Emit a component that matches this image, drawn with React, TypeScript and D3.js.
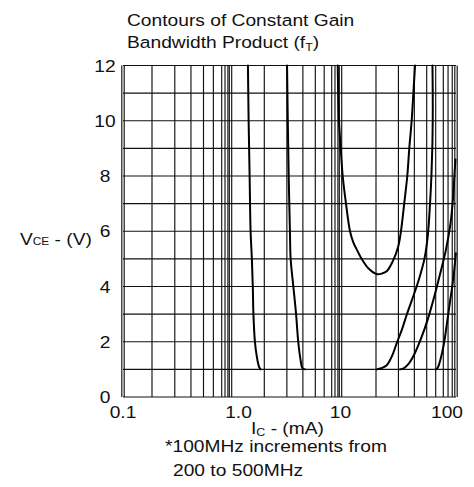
import * as d3 from "d3";

const W = 474;
const H = 487;

// log axis decades, labelled ticks
const xDecades = [0.1, 1, 10, 100];
const xDecadeLabels = ["0.1", "1.0", "10", "100"];
const xMinorSteps = [2, 3, 4, 5, 6, 7, 8, 9];
const yGridValues = [0, 1, 2, 3, 4, 5, 6, 7, 8, 9, 10, 11, 12];
const yTickValues = [0, 2, 4, 6, 8, 10, 12];

// the printed log grid is not evenly spaced, so the scale is calibrated
// piecewise on these current values
const xKnots = [0.1, 0.2, 0.5, 0.7, 1, 2, 5, 7, 10, 20, 50, 70, 100];
const xKnotPx = [123, 152, 203.5, 221.7, 230.5, 264.3, 315.3, 331.7, 340.5, 376, 426.7, 443.3, 456];

// contours, [IC mA, VCE V]
const contourA = [
  [1.43, 12], [1.45, 10], [1.48, 8], [1.51, 6], [1.55, 5], [1.58, 4],
  [1.6, 3], [1.65, 2], [1.71, 1.5], [1.8, 1.08], [1.86, 1],
];
const contourB = [
  [3.01, 12], [3.05, 10], [3.1, 8], [3.17, 6], [3.21, 5], [3.37, 4],
  [3.54, 3], [3.68, 2], [3.85, 1.3], [3.96, 1.05], [4.16, 1],
];
const contourU = [
  [8.93, 12], [9.42, 10], [10.04, 9], [10.44, 8], [11.13, 7], [12.04, 6],
  [12.84, 5.6], [13.88, 5.3], [15.12, 5], [17.3, 4.65], [20.25, 4.45],
  [22.3, 4.47], [24.27, 4.55], [27, 4.9], [29.9, 5.45], [31.4, 6],
  [33.3, 7], [35.2, 8], [36.5, 9], [38.1, 10], [39.3, 11], [40.5, 12],
];
const contourD = [
  [20.25, 1], [22, 1.04], [24.3, 1.15], [26.8, 1.5], [29.1, 1.95], [32, 2.45],
  [34.8, 2.97], [38.2, 3.5], [41.7, 4], [45, 4.5], [48, 5], [51, 5.8],
  [53.5, 7], [55, 8], [56, 9], [56.5, 10], [56.5, 11], [56.2, 12],
];
const contourE = [
  [30.9, 1], [33, 1.04], [36, 1.2], [40, 1.55], [45, 2.1], [51, 2.8],
  [58, 3.6], [66, 4.5], [75, 5.3], [85, 6.2], [92, 7.2], [96, 8.1], [98.5, 8.6],
];
const contourF = [
  [60, 1], [62.5, 1.06], [66, 1.35], [71, 1.9], [77, 2.6], [84, 3.4],
  [91, 4.1], [96, 4.7], [99.5, 5.2],
];
const contours = [contourA, contourB, contourU, contourD, contourE, contourF];

const top = 65.5;
const bottom = 397;
const left = xKnotPx[0];
const right = xKnotPx[xKnotPx.length - 1];

const x = d3.scaleLog().domain(xKnots).range(xKnotPx);
const y = d3.scaleLinear().domain([0, 12]).range([bottom, top]);

const line = d3
  .line<number[]>()
  .x((d) => x(d[0]))
  .y((d) => y(d[1]))
  .curve(d3.curveCatmullRom.alpha(0.5));

const FONT = "'Liberation Sans', Arial, Helvetica, sans-serif";
const STRETCH = 1.13;

type TProps = {
  x: number;
  y: number;
  anchor?: "start" | "middle" | "end";
  size?: number;
  children: React.ReactNode;
};

const SText = ({ x, y, anchor = "start", size = 17, children }: TProps) => (
  <text
    transform={`translate(${x},${y}) scale(${STRETCH},1)`}
    textAnchor={anchor}
    fontFamily={FONT}
    fontSize={size}
    fill="#111"
  >
    {children}
  </text>
);

export default function App() {
  const minorLines: number[] = [];
  xDecades.slice(0, -1).forEach((d) => {
    xMinorSteps.forEach((k) => minorLines.push(d * k));
  });

  return (
    <svg
      width={W}
      height={H}
      viewBox={`0 0 ${W} ${H}`}
      style={{ position: "absolute", left: 0, top: 0, background: "#fff" }}
    >
      <rect width={W} height={H} fill="#fff" />

      <SText x={127} y={26}>Contours of Constant Gain</SText>
      <SText x={127} y={48}>
        Bandwidth Product (f
        <tspan fontSize={11} dy={3}>T</tspan>
        <tspan dy={-3}>)</tspan>
      </SText>

      <g stroke="#111" strokeWidth={1.15}>
        {yGridValues.map((v) => (
          <line key={`h${v}`} x1={left} x2={right} y1={y(v)} y2={y(v)} />
        ))}
        {minorLines.map((v) => (
          <line key={`m${v}`} x1={x(v)} x2={x(v)} y1={top} y2={bottom} />
        ))}
        {xDecades.map((v) => (
          <g key={`d${v}`}>
            <line x1={x(v) - 1.2} x2={x(v) - 1.2} y1={top} y2={bottom} />
            <line x1={x(v) + 1.2} x2={x(v) + 1.2} y1={top} y2={bottom} />
          </g>
        ))}
      </g>

      <g fill="none" stroke="#000" strokeWidth={2} strokeLinejoin="round" strokeLinecap="round">
        {contours.map((c, i) => (
          <path key={i} d={line(c) || ""} />
        ))}
      </g>

      {yTickValues.map((v) => (
        <SText key={`yt${v}`} x={105} y={y(v) + 6} anchor="middle">
          {v}
        </SText>
      ))}
      {xDecades.map((v, i) => (
        <SText
          key={`xt${v}`}
          x={x(v) + (i === 1 ? 8 : i === 3 ? -9 : 0)}
          y={418}
          anchor="middle"
        >
          {xDecadeLabels[i]}
        </SText>
      ))}

      <SText x={20} y={245}>
        V<tspan fontSize={10.5}>CE</tspan> - (V)
      </SText>

      <SText x={251} y={434}>
        I<tspan fontSize={11} dy={2}>C</tspan>
        <tspan dy={-2}> - (mA)</tspan>
      </SText>
      <SText x={165} y={452}>*100MHz increments from</SText>
      <SText x={173} y={476}>200 to 500MHz</SText>
    </svg>
  );
}
